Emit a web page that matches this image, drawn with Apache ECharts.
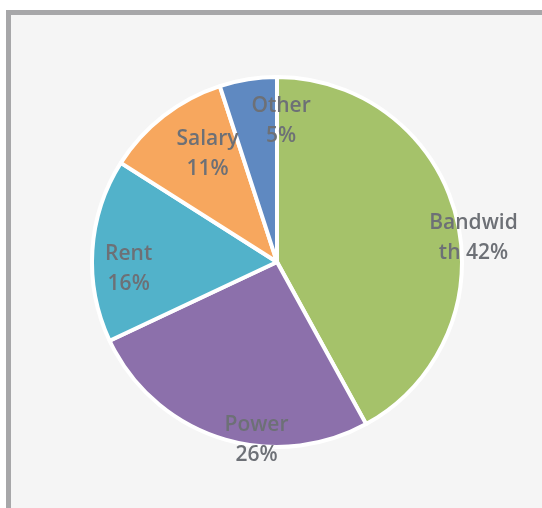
<!DOCTYPE html>
<html>
<head>
<meta charset="utf-8">
<script src="https://cdn.jsdelivr.net/npm/echarts@6/dist/echarts.min.js"></script>
<style>
  html, body { margin: 0; padding: 0; background: #ffffff; }
  #chart { width: 542px; height: 508px; }
</style>
</head>
<body>
<div id="chart"></div>
<script>
// Cost breakdown (percent of total)
const categories = ['Bandwidth', 'Power', 'Rent', 'Salary', 'Other'];
const shares = [42, 26, 16, 11, 5];
const labelTexts = ['Bandwid\nth 42%', 'Power\n26%', 'Rent\n16%', 'Salary\n11%', 'Other\n5%'];

// Slice colours and label nudges (px from the default inside position)
const sliceColors = ['#a5c26a', '#8c70ab', '#52b2ca', '#f7a75e', '#5f89c1'];
const labelNudges = [[104, 0], [9, 87], [-53, 13], [-11, -33], [19, -47]];

const chart = echarts.init(document.getElementById('chart'), null, { renderer: 'canvas' });

const seriesData = categories.map((name, i) => ({
  name: name,
  value: shares[i],
  itemStyle: { color: sliceColors[i] },
  label: { formatter: labelTexts[i], offset: labelNudges[i] }
}));

chart.setOption({
  backgroundColor: '#ffffff',
  animation: false,
  graphic: [{
    type: 'rect',
    z: -10,
    silent: true,
    shape: { x: 8.5, y: 12.5, width: 700, height: 700 },
    style: { fill: '#f5f5f5', stroke: '#a7a7a9', lineWidth: 5 }
  }],
  series: [{
    type: 'pie',
    center: [277, 262],
    radius: [0, 185],
    startAngle: 90,
    clockwise: true,
    avoidLabelOverlap: false,
    itemStyle: { borderColor: '#ffffff', borderWidth: 4 },
    label: {
      show: true,
      position: 'inside',
      color: '#6d7076',
      fontFamily: 'Open Sans',
      fontWeight: 600,
      fontSize: 21,
      lineHeight: 30,
      align: 'center'
    },
    labelLine: { show: false },
    emphasis: { disabled: true },
    data: seriesData
  }]
});
</script>
</body>
</html>
